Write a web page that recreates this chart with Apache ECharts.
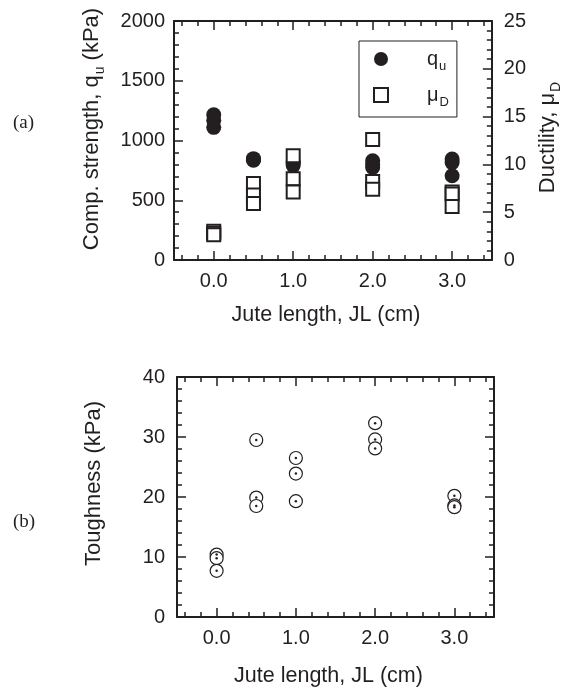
<!DOCTYPE html>
<html><head><meta charset="utf-8">
<script src="https://cdn.jsdelivr.net/npm/echarts@6/dist/echarts.min.js"></script>
<style>html,body{margin:0;padding:0;background:#fff}#c{width:571px;height:689px}</style>
</head><body><div id="c"></div>
<script>
// ---- data ----
const juteLength = [0.0, 0.5, 1.0, 2.0, 3.0];
// unconfined compressive strength q_u (kPa), three specimens per jute length
const quRun1 = [1215, 848, 825, 830, 845];
const quRun2 = [1170, 840, 810, 800, 815];
const quRun3 = [1110, 835, 790, 775, 705];
// ductility mu_D
const muRun1 = [3.0, 8.0, 10.9, 12.6, 7.1];
const muRun2 = [2.8, 6.8, 8.5, 8.2, 6.9];
const muRun3 = [2.65, 5.9, 7.1, 7.4, 5.6];
// toughness (kPa)
const toughRun1 = [10.4, 29.5, 26.5, 32.3, 20.2];
const toughRun2 = [9.8, 19.9, 23.9, 29.6, 18.6];
const toughRun3 = [7.7, 18.5, 19.3, 28.1, 18.3];
// tick values
const xMajorTicks = [0, 1, 2, 3];
const xMinorTicks = [-0.4, -0.2, 0.2, 0.4, 0.6, 0.8, 1.2, 1.4, 1.6, 1.8, 2.2, 2.4, 2.6, 2.8, 3.2, 3.4];

const INK = '#231f20';
const FONT = '"Liberation Sans", Arial, Helvetica, sans-serif';

function pairs(xs, ys) { return xs.map((x, i) => [x, ys[i]]); }
const quData = [].concat(pairs(juteLength, quRun1), pairs(juteLength, quRun2), pairs(juteLength, quRun3));
const muData = [].concat(pairs(juteLength, muRun1), pairs(juteLength, muRun2), pairs(juteLength, muRun3));
const toughData = [].concat(pairs(juteLength, toughRun1), pairs(juteLength, toughRun2), pairs(juteLength, toughRun3));

const tickStyle = { color: INK, width: 1.5 };
const lineStyle = { color: INK, width: 2 };

function xAxesFor(g, nameGap) {
  const base = { type: 'value', gridIndex: g, min: -0.5, max: 3.5, splitLine: { show: false } };
  return [
    Object.assign({}, base, {
      position: 'bottom',
      axisLine: { show: true, onZero: false, lineStyle: lineStyle },
      axisTick: { show: true, inside: true, length: 9, customValues: xMajorTicks, lineStyle: tickStyle },
      axisLabel: { show: true, customValues: xMajorTicks, formatter: v => Number(v).toFixed(1),
        color: INK, fontSize: 20, fontFamily: FONT, margin: 11 },
      name: 'Jute length, JL (cm)', nameLocation: 'middle', nameGap: nameGap,
      nameTextStyle: { color: INK, fontSize: 21.5, fontFamily: FONT, padding: [0, 14, 0, 0] }
    }),
    Object.assign({}, base, {
      position: 'bottom',
      axisLine: { show: false, onZero: false },
      axisTick: { show: true, inside: true, length: 5, customValues: xMinorTicks, lineStyle: tickStyle },
      axisLabel: { show: false }
    }),
    Object.assign({}, base, {
      position: 'top',
      axisLine: { show: true, onZero: false, lineStyle: lineStyle },
      axisTick: { show: true, inside: true, length: 9, customValues: xMajorTicks, lineStyle: tickStyle },
      axisLabel: { show: false }
    }),
    Object.assign({}, base, {
      position: 'top',
      axisLine: { show: false, onZero: false },
      axisTick: { show: true, inside: true, length: 5, customValues: xMinorTicks, lineStyle: tickStyle },
      axisLabel: { show: false }
    })
  ];
}

function yAxis(g, pos, min, max, interval, showLabel, margin, name, nameGap, namePad) {
  return {
    type: 'value', gridIndex: g, position: pos, min: min, max: max, interval: interval,
    splitLine: { show: false },
    axisLine: { show: true, onZero: false, lineStyle: lineStyle },
    axisTick: { show: true, inside: true, length: 9, lineStyle: tickStyle },
    minorTick: { show: true, splitNumber: 5, length: 5, lineStyle: tickStyle },
    axisLabel: { show: showLabel, color: INK, fontSize: 20, fontFamily: FONT, margin: margin,
      formatter: v => String(v) },
    name: name || '', nameLocation: 'middle', nameGap: nameGap || 0,
    nameTextStyle: {
      color: INK, fontFamily: FONT, padding: namePad || 0,
      rich: {
        m: { fontSize: 22, fontFamily: FONT, color: INK, lineHeight: 23, verticalAlign: 'top' },
        s: { fontSize: 14, fontFamily: FONT, color: INK, lineHeight: 14, padding: [12, 0, 0, 1], verticalAlign: 'top' }
      }
    }
  };
}

const option = {
  animation: false,
  backgroundColor: '#fff',
  grid: [
    { left: 174, top: 21, width: 320, height: 239 },
    { left: 177, top: 377, width: 317, height: 240 }
  ],
  xAxis: [].concat(xAxesFor(0, 44), xAxesFor(1, 48)),
  yAxis: [
    yAxis(0, 'left', 0, 2000, 500, true, 9, '{m|Comp. strength, q}{s|u}{m| (kPa)}', 70, [0, 0, 0, 23]),
    yAxis(0, 'right', 0, 25, 5, true, 12, '{m|Ductility, μ}{s|D}', 42, [0, 0, 0, 6]),
    yAxis(1, 'left', 0, 40, 10, true, 12, '{m|Toughness (kPa)}', 71, [0, 0, 0, 27]),
    yAxis(1, 'right', 0, 40, 10, false, 8, '', 0)
  ],
  legend: {
    left: 359, top: 41, orient: 'vertical',
    data: ['qu', 'mu'],
    itemWidth: 14, itemHeight: 14, itemGap: 12,
    padding: [8, 8, 8, 14],
    borderColor: INK, borderWidth: 1,
    selectedMode: false,
    formatter: name => name === 'qu' ? '{pad|}{m|q}{s|u}' : '{pad|}{m|μ}{s|D}',
    textStyle: {
      rich: {
        pad: { width: 34, lineHeight: 20, verticalAlign: 'top' },
        m: { fontSize: 20, fontFamily: FONT, color: INK, lineHeight: 20, verticalAlign: 'top' },
        s: { fontSize: 13, fontFamily: FONT, color: INK, lineHeight: 13, padding: [11, 0, 0, 1], verticalAlign: 'top' }
      }
    }
  },
  graphic: [
    { type: 'text', left: 13, top: 114, style: { text: '(a)', font: '19px "Liberation Serif", "Times New Roman", serif', fill: INK } },
    { type: 'text', left: 13, top: 513, style: { text: '(b)', font: '19px "Liberation Serif", "Times New Roman", serif', fill: INK } }
  ],
  series: [
    { name: 'qu', type: 'scatter', xAxisIndex: 0, yAxisIndex: 0, data: quData,
      symbol: 'circle', symbolSize: 15, itemStyle: { color: INK, opacity: 1 },
      emphasis: { disabled: true }, z: 3 },
    { name: 'mu', type: 'scatter', xAxisIndex: 0, yAxisIndex: 1, data: muData,
      symbol: 'rect', symbolSize: 13, itemStyle: { color: '#fff', borderColor: INK, borderWidth: 2, opacity: 1 },
      emphasis: { disabled: true }, z: 4 },
    { name: 'toughness', type: 'scatter', xAxisIndex: 4, yAxisIndex: 2, data: toughData,
      symbol: 'circle', symbolSize: 13, itemStyle: { color: '#fff', borderColor: INK, borderWidth: 1.2, opacity: 1 },
      emphasis: { disabled: true }, z: 3 },
    { name: 'toughness centre', type: 'scatter', xAxisIndex: 4, yAxisIndex: 2, data: toughData,
      symbol: 'circle', symbolSize: 2.5, itemStyle: { color: INK, opacity: 1 },
      emphasis: { disabled: true }, silent: true, z: 5 }
  ]
};

const chart = echarts.init(document.getElementById('c'), null, { renderer: 'canvas' });
chart.setOption(option);
</script>
</body></html>
